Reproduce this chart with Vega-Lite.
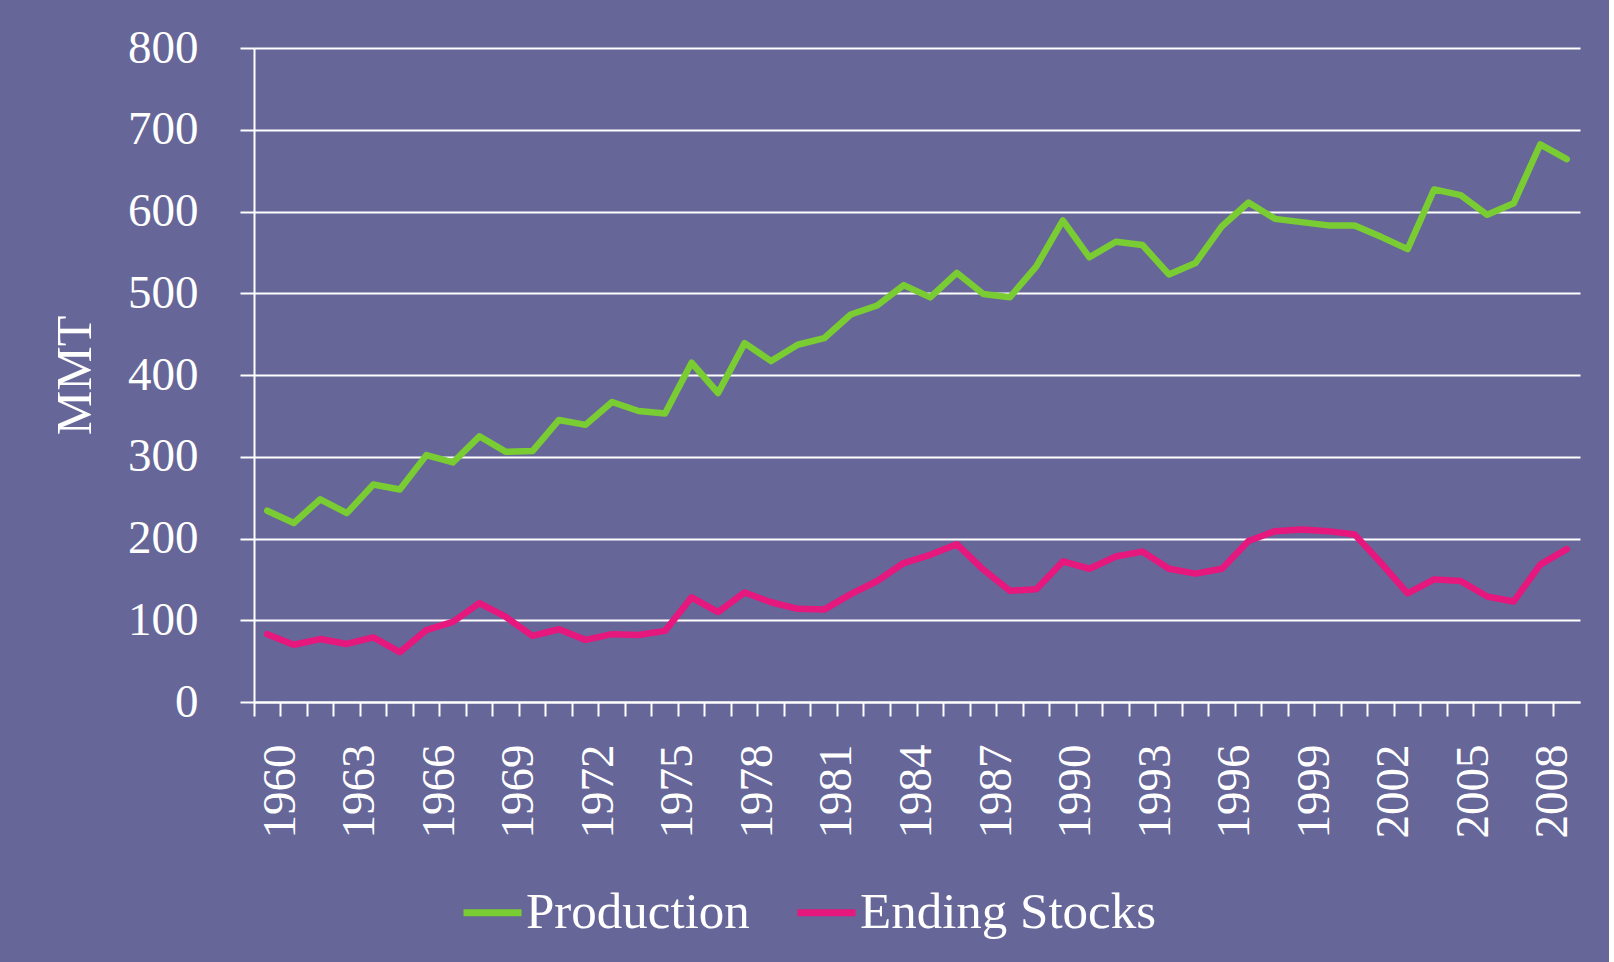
{
  "$schema": "https://vega.github.io/schema/vega-lite/v6.json",
  "width": 1326,
  "height": 654,
  "autosize": {"type": "none"},
  "padding": {"left": 254, "top": 48, "right": 29, "bottom": 260},
  "background": "#666699",
  "config": {
    "view": {"stroke": null},
    "font": "Liberation Serif"
  },
  "data": {
    "values": [
      {"year": 1960, "series": "Production", "value": 234},
      {"year": 1961, "series": "Production", "value": 219},
      {"year": 1962, "series": "Production", "value": 248},
      {"year": 1963, "series": "Production", "value": 231},
      {"year": 1964, "series": "Production", "value": 266},
      {"year": 1965, "series": "Production", "value": 260},
      {"year": 1966, "series": "Production", "value": 302},
      {"year": 1967, "series": "Production", "value": 293},
      {"year": 1968, "series": "Production", "value": 325},
      {"year": 1969, "series": "Production", "value": 306},
      {"year": 1970, "series": "Production", "value": 307},
      {"year": 1971, "series": "Production", "value": 345},
      {"year": 1972, "series": "Production", "value": 339},
      {"year": 1973, "series": "Production", "value": 367},
      {"year": 1974, "series": "Production", "value": 356},
      {"year": 1975, "series": "Production", "value": 353},
      {"year": 1976, "series": "Production", "value": 415},
      {"year": 1977, "series": "Production", "value": 378},
      {"year": 1978, "series": "Production", "value": 439},
      {"year": 1979, "series": "Production", "value": 417},
      {"year": 1980, "series": "Production", "value": 437},
      {"year": 1981, "series": "Production", "value": 445},
      {"year": 1982, "series": "Production", "value": 474},
      {"year": 1983, "series": "Production", "value": 485},
      {"year": 1984, "series": "Production", "value": 510},
      {"year": 1985, "series": "Production", "value": 495},
      {"year": 1986, "series": "Production", "value": 525},
      {"year": 1987, "series": "Production", "value": 499},
      {"year": 1988, "series": "Production", "value": 495},
      {"year": 1989, "series": "Production", "value": 533},
      {"year": 1990, "series": "Production", "value": 589},
      {"year": 1991, "series": "Production", "value": 544},
      {"year": 1992, "series": "Production", "value": 563},
      {"year": 1993, "series": "Production", "value": 559},
      {"year": 1994, "series": "Production", "value": 523},
      {"year": 1995, "series": "Production", "value": 537},
      {"year": 1996, "series": "Production", "value": 582},
      {"year": 1997, "series": "Production", "value": 611},
      {"year": 1998, "series": "Production", "value": 591},
      {"year": 1999, "series": "Production", "value": 587},
      {"year": 2000, "series": "Production", "value": 583},
      {"year": 2001, "series": "Production", "value": 583},
      {"year": 2002, "series": "Production", "value": 569},
      {"year": 2003, "series": "Production", "value": 554},
      {"year": 2004, "series": "Production", "value": 627},
      {"year": 2005, "series": "Production", "value": 620},
      {"year": 2006, "series": "Production", "value": 596},
      {"year": 2007, "series": "Production", "value": 610},
      {"year": 2008, "series": "Production", "value": 682},
      {"year": 2009, "series": "Production", "value": 664},
      {"year": 1960, "series": "Ending Stocks", "value": 83},
      {"year": 1961, "series": "Ending Stocks", "value": 70},
      {"year": 1962, "series": "Ending Stocks", "value": 77},
      {"year": 1963, "series": "Ending Stocks", "value": 71},
      {"year": 1964, "series": "Ending Stocks", "value": 79},
      {"year": 1965, "series": "Ending Stocks", "value": 61},
      {"year": 1966, "series": "Ending Stocks", "value": 88},
      {"year": 1967, "series": "Ending Stocks", "value": 98},
      {"year": 1968, "series": "Ending Stocks", "value": 121},
      {"year": 1969, "series": "Ending Stocks", "value": 104},
      {"year": 1970, "series": "Ending Stocks", "value": 81},
      {"year": 1971, "series": "Ending Stocks", "value": 89},
      {"year": 1972, "series": "Ending Stocks", "value": 76},
      {"year": 1973, "series": "Ending Stocks", "value": 83},
      {"year": 1974, "series": "Ending Stocks", "value": 82},
      {"year": 1975, "series": "Ending Stocks", "value": 87},
      {"year": 1976, "series": "Ending Stocks", "value": 128},
      {"year": 1977, "series": "Ending Stocks", "value": 110},
      {"year": 1978, "series": "Ending Stocks", "value": 134},
      {"year": 1979, "series": "Ending Stocks", "value": 122},
      {"year": 1980, "series": "Ending Stocks", "value": 114},
      {"year": 1981, "series": "Ending Stocks", "value": 113},
      {"year": 1982, "series": "Ending Stocks", "value": 132},
      {"year": 1983, "series": "Ending Stocks", "value": 148},
      {"year": 1984, "series": "Ending Stocks", "value": 170},
      {"year": 1985, "series": "Ending Stocks", "value": 180},
      {"year": 1986, "series": "Ending Stocks", "value": 193},
      {"year": 1987, "series": "Ending Stocks", "value": 162},
      {"year": 1988, "series": "Ending Stocks", "value": 136},
      {"year": 1989, "series": "Ending Stocks", "value": 138},
      {"year": 1990, "series": "Ending Stocks", "value": 172},
      {"year": 1991, "series": "Ending Stocks", "value": 163},
      {"year": 1992, "series": "Ending Stocks", "value": 178},
      {"year": 1993, "series": "Ending Stocks", "value": 184},
      {"year": 1994, "series": "Ending Stocks", "value": 163},
      {"year": 1995, "series": "Ending Stocks", "value": 157},
      {"year": 1996, "series": "Ending Stocks", "value": 163},
      {"year": 1997, "series": "Ending Stocks", "value": 197},
      {"year": 1998, "series": "Ending Stocks", "value": 209},
      {"year": 1999, "series": "Ending Stocks", "value": 211},
      {"year": 2000, "series": "Ending Stocks", "value": 209},
      {"year": 2001, "series": "Ending Stocks", "value": 205},
      {"year": 2002, "series": "Ending Stocks", "value": 170},
      {"year": 2003, "series": "Ending Stocks", "value": 133},
      {"year": 2004, "series": "Ending Stocks", "value": 150},
      {"year": 2005, "series": "Ending Stocks", "value": 148},
      {"year": 2006, "series": "Ending Stocks", "value": 129},
      {"year": 2007, "series": "Ending Stocks", "value": 123},
      {"year": 2008, "series": "Ending Stocks", "value": 168},
      {"year": 2009, "series": "Ending Stocks", "value": 187}
    ]
  },
  "mark": {"type": "line", "strokeWidth": 6.5, "strokeCap": "round", "strokeJoin": "round"},
  "encoding": {
    "x": {
      "field": "year",
      "type": "ordinal",
      "bandPosition": 0.5,
      "scale": {"type": "band", "paddingInner": 0, "paddingOuter": 0},
      "axis": {
        "title": null,
        "bandPosition": 0,
        "labelOffset": 13.26,
        "labelExpr": "(+datum.value) % 3 == 1 ? datum.label : ''",
        "labelOverlap": false,
        "labelAngle": 270,
        "labelFontSize": 47,
        "labelColor": "white",
        "labelPadding": 28,
        "labelBound": false,
        "labelFlush": false,
        "tickSize": 14,
        "tickWidth": 2,
        "tickColor": "white",
        "domainColor": "white",
        "domainWidth": 2,
        "grid": false
      }
    },
    "y": {
      "field": "value",
      "type": "quantitative",
      "scale": {"domain": [0, 800], "nice": false, "zero": true},
      "axis": {
        "values": [0, 100, 200, 300, 400, 500, 600, 700, 800],
        "title": "MMT",
        "titleFontSize": 50,
        "titleFontWeight": "normal",
        "titleColor": "white",
        "titlePadding": 27,
        "labelFontSize": 47,
        "labelColor": "white",
        "labelPadding": 42,
        "tickSize": 14,
        "tickWidth": 2,
        "tickColor": "white",
        "domainColor": "white",
        "domainWidth": 2,
        "grid": true,
        "gridColor": "white",
        "gridWidth": 2,
        "gridOpacity": 1
      }
    },
    "color": {
      "field": "series",
      "type": "nominal",
      "sort": ["Production", "Ending Stocks"],
      "scale": {"domain": ["Production", "Ending Stocks"], "range": ["#7ACC33", "#E6177D"]},
      "legend": {
        "title": null,
        "orient": "none",
        "direction": "horizontal",
        "legendX": 206,
        "legendY": 832,
        "padding": 0,
        "symbolType": "stroke",
        "symbolSize": 3364,
        "symbolStrokeWidth": 7,
        "labelFontSize": 51,
        "labelColor": "white",
        "labelLimit": 0,
        "labelOffset": 1,
        "columnPadding": 33
      }
    }
  }
}
